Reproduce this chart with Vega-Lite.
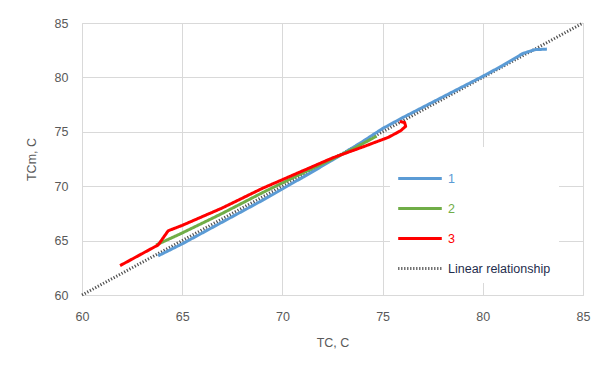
{
  "$schema": "https://vega.github.io/schema/vega-lite/v6.json",
  "autosize": "none",
  "width": 501,
  "height": 272,
  "padding": {"left": 82, "top": 23, "right": 26, "bottom": 73},
  "background": "white",
  "config": {
    "font": "Liberation Sans",
    "view": {"stroke": "#d9d9d9", "strokeWidth": 1},
    "axis": {
      "grid": true, "gridColor": "#d9d9d9", "gridWidth": 1,
      "domain": false, "ticks": false, "labelFlush": false,
      "labelColor": "#595959", "labelFontSize": 12.5, "labelFont": "Liberation Sans",
      "titleColor": "#595959", "titleFontSize": 12.5, "titleFontWeight": "normal", "titleFont": "Liberation Sans"
    }
  },
  "data": {
    "values": [
      {"series": "Linear relationship", "o": 1, "tc": 60, "tcm": 60},
      {"series": "Linear relationship", "o": 2, "tc": 85, "tcm": 85},
      {"series": "1", "o": 1, "tc": 63.8, "tcm": 63.6},
      {"series": "1", "o": 2, "tc": 65, "tcm": 64.7},
      {"series": "1", "o": 3, "tc": 67, "tcm": 66.7},
      {"series": "1", "o": 4, "tc": 69, "tcm": 68.7},
      {"series": "1", "o": 5, "tc": 71, "tcm": 70.8},
      {"series": "1", "o": 6, "tc": 72.5, "tcm": 72.4},
      {"series": "1", "o": 7, "tc": 74, "tcm": 74.1},
      {"series": "1", "o": 8, "tc": 75, "tcm": 75.3},
      {"series": "1", "o": 9, "tc": 76, "tcm": 76.3},
      {"series": "1", "o": 10, "tc": 78, "tcm": 78.2},
      {"series": "1", "o": 11, "tc": 80, "tcm": 80.1},
      {"series": "1", "o": 12, "tc": 81, "tcm": 81.1},
      {"series": "1", "o": 13, "tc": 82, "tcm": 82.2},
      {"series": "1", "o": 14, "tc": 82.6, "tcm": 82.55},
      {"series": "1", "o": 15, "tc": 83.2, "tcm": 82.6},
      {"series": "2", "o": 1, "tc": 63.7, "tcm": 64.6},
      {"series": "2", "o": 2, "tc": 65, "tcm": 65.7},
      {"series": "2", "o": 3, "tc": 67, "tcm": 67.5},
      {"series": "2", "o": 4, "tc": 69, "tcm": 69.4},
      {"series": "2", "o": 5, "tc": 71, "tcm": 71.2},
      {"series": "2", "o": 6, "tc": 72.5, "tcm": 72.5},
      {"series": "2", "o": 7, "tc": 73.6, "tcm": 73.5},
      {"series": "2", "o": 8, "tc": 74.7, "tcm": 74.6},
      {"series": "3", "o": 1, "tc": 61.9, "tcm": 62.7},
      {"series": "3", "o": 2, "tc": 63.8, "tcm": 64.6},
      {"series": "3", "o": 3, "tc": 64.3, "tcm": 65.9},
      {"series": "3", "o": 4, "tc": 65, "tcm": 66.4},
      {"series": "3", "o": 5, "tc": 67, "tcm": 68.0},
      {"series": "3", "o": 6, "tc": 69, "tcm": 69.8},
      {"series": "3", "o": 7, "tc": 71, "tcm": 71.4},
      {"series": "3", "o": 8, "tc": 72.5, "tcm": 72.6},
      {"series": "3", "o": 9, "tc": 74, "tcm": 73.6},
      {"series": "3", "o": 10, "tc": 75.3, "tcm": 74.5},
      {"series": "3", "o": 11, "tc": 75.9, "tcm": 75.1},
      {"series": "3", "o": 12, "tc": 76.15, "tcm": 75.5},
      {"series": "3", "o": 13, "tc": 76.1, "tcm": 75.85},
      {"series": "3", "o": 14, "tc": 75.85, "tcm": 75.95}
    ]
  },
  "mark": {"type": "line", "strokeJoin": "round"},
  "encoding": {
    "x": {"field": "tc", "type": "quantitative", "title": "TC, C",
          "scale": {"domain": [60, 85], "nice": false, "zero": false},
          "axis": {"values": [60, 65, 70, 75, 80, 85], "labelPadding": 15, "titlePadding": 14}},
    "y": {"field": "tcm", "type": "quantitative", "title": "TCm, C",
          "scale": {"domain": [60, 85], "nice": false, "zero": false},
          "axis": {"values": [60, 65, 70, 75, 80, 85], "labelPadding": 14, "titlePadding": 16}},
    "order": {"field": "o", "type": "quantitative"},
    "color": {"field": "series", "type": "nominal",
              "scale": {"domain": ["1", "2", "3", "Linear relationship"], "range": ["#5b9bd5", "#70ad47", "#ff0000", "#505050"]},
              "legend": {
                "title": null, "orient": "none", "legendX": 308, "legendY": 124,
                "fillColor": "white", "padding": 8,
                "symbolType": "stroke", "symbolSize": 400, "symbolStrokeWidth": 3,
                "labelFontSize": 12.5, "labelFont": "Liberation Sans", "rowPadding": -2, "labelOffset": 3,
                "encode": {
                  "symbols": {"update": {"size": {"value": 1900}, "x": {"value": 22}}},
                  "labels": {"update": {"fill": {"signal": "datum.value == '1' ? '#5b9bd5' : datum.value == '2' ? '#70ad47' : datum.value == '3' ? '#ff0000' : '#1f2d4d'"}}}
                }
              }},
    "strokeDash": {"field": "series", "type": "nominal",
                   "scale": {"domain": ["1", "2", "3", "Linear relationship"], "range": [[1, 0], [1, 0], [1, 0], [1.2, 1.8]]},
                   "legend": null},
    "strokeWidth": {"field": "series", "type": "nominal",
                    "scale": {"domain": ["1", "2", "3", "Linear relationship"], "range": [3, 3, 3, 1.5]},
                    "legend": null}
  }
}
